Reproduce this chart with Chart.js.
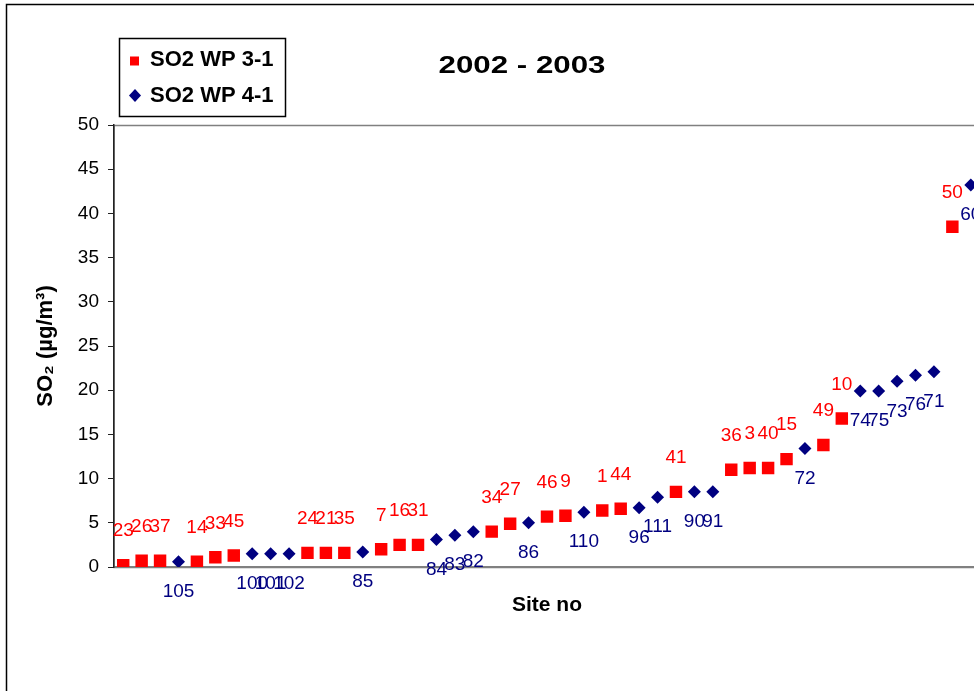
<!DOCTYPE html>
<html><head><meta charset="utf-8">
<script src="https://cdn.jsdelivr.net/npm/chart.js@4/dist/chart.umd.min.js"></script>
<style>html,body{margin:0;padding:0;overflow:hidden;background:#fff;width:974px;height:691px}canvas{display:block}</style>
</head><body>
<canvas id="c" width="1000" height="700"></canvas>
<script>
// ---- data ----
const chartTitle = '2002 - 2003';
const seriesNames = ['SO2 WP 3-1', 'SO2 WP 4-1'];
const siteLabels = ['23','26','37','105','14','33','45','100','101','102','24','21','35','85','7','16','31','84','83','82','34','27','86','46','9','110','1','44','96','111','41','90','91','36','3','40','15','72','49','10','74','75','73','76','71','50','60'];
const wp31 = [0.2,0.7,0.7,null,0.6,1.1,1.3,null,null,null,1.6,1.6,1.6,null,2.0,2.5,2.5,null,null,null,4.0,4.9,null,5.7,5.8,null,6.4,6.6,null,null,8.5,null,null,11.0,11.2,11.2,12.2,null,13.8,16.8,null,null,null,null,null,38.5,null];
const wp41 = [null,null,null,0.6,null,null,null,1.5,1.5,1.5,null,null,null,1.7,null,null,null,3.1,3.6,4.0,null,null,5.0,null,null,6.2,null,null,6.7,7.9,null,8.5,8.5,null,null,null,null,13.4,null,null,19.9,19.9,21.0,21.7,22.1,null,43.2];
const yTickValues = [0,5,10,15,20,25,30,35,40,45,50];
const yTitle = 'SO\u2082 (\u00b5g/m\u00b3)';
const xTitle = 'Site no';

// ---- style ----
const FONT = '"Liberation Sans", Arial, Helvetica, sans-serif';
const RED = '#FF0000', NAVY = '#000080';

const decor = {
  id: 'decor',
  beforeDraw(chart) {
    const {ctx, chartArea: a} = chart;
    ctx.save();
    ctx.fillStyle = '#fff';
    ctx.fillRect(0, 0, chart.width, chart.height);
    ctx.strokeStyle = '#808080';
    ctx.lineWidth = 1.5;
    ctx.strokeRect(a.left, a.top + 0.5, a.right - a.left, a.bottom - a.top);
    ctx.restore();
  },
  afterDatasetsDraw(chart) {
    const {ctx} = chart;
    ctx.save();
    ctx.font = '19px ' + FONT;
    ctx.textAlign = 'center';
    ctx.textBaseline = 'middle';
    chart.data.datasets.forEach((ds, di) => {
      const meta = chart.getDatasetMeta(di);
      meta.data.forEach((pt, i) => {
        if (ds.data[i] === null || ds.data[i] === undefined) return;
        ctx.fillStyle = di === 0 ? RED : NAVY;
        const dy = di === 0 ? -34 : 30;
        ctx.fillText(siteLabels[i], pt.x, pt.y + dy);
      });
    });
    ctx.restore();
  },
  afterDraw(chart) {
    const {ctx} = chart;
    ctx.save();
    // outer chart border
    ctx.strokeStyle = '#000';
    ctx.lineWidth = 1.5;
    ctx.strokeRect(6.5, 4.5, 1200, 1200);
    // title (stretched horizontally like the original)
    ctx.fillStyle = '#000';
    ctx.translate(522, 67);
    ctx.scale(1.36, 1);
    ctx.font = 'bold 23px ' + FONT;
    ctx.textAlign = 'center';
    ctx.textBaseline = 'middle';
    ctx.fillText(chartTitle, 0, 0);
    ctx.restore();

    // legend
    ctx.save();
    ctx.fillStyle = '#fff';
    ctx.fillRect(120, 39, 165, 77);
    ctx.strokeStyle = '#000';
    ctx.lineWidth = 1.5;
    ctx.strokeRect(119.5, 38.5, 166, 78);
    ctx.fillStyle = RED;
    ctx.fillRect(130, 56.5, 9, 9);
    ctx.fillStyle = NAVY;
    ctx.beginPath();
    ctx.moveTo(135, 89); ctx.lineTo(141, 95.5); ctx.lineTo(135, 102); ctx.lineTo(129, 95.5);
    ctx.closePath(); ctx.fill();
    ctx.fillStyle = '#000';
    ctx.font = 'bold 22px ' + FONT;
    ctx.textAlign = 'left';
    ctx.textBaseline = 'middle';
    ctx.fillText(seriesNames[0], 150, 60);
    ctx.fillText(seriesNames[1], 150, 96);
    ctx.restore();
  }
};

new Chart(document.getElementById('c'), {
  type: 'line',
  data: {
    labels: siteLabels,
    datasets: [
      { label: seriesNames[0], data: wp31, showLine: false, pointStyle: 'rect', pointRadius: 8.8,
        backgroundColor: RED, borderColor: RED, pointBorderWidth: 0 },
      { label: seriesNames[1], data: wp41, showLine: false, pointStyle: 'rectRot', pointRadius: 6.5,
        backgroundColor: NAVY, borderColor: NAVY, pointBorderWidth: 0 }
    ]
  },
  options: {
    responsive: false,
    animation: false,
    events: [],
    layout: { padding: { left: 0, top: 125, right: 20, bottom: 0 } },
    plugins: { legend: { display: false }, title: { display: false }, tooltip: { enabled: false } },
    scales: {
      x: {
        type: 'category',
        offset: true,
        grid: { display: false, offset: true },
        border: { display: true, color: '#808080', width: 2 },
        ticks: { display: false },
        title: { display: true, text: xTitle, color: '#000',
                 font: { family: FONT, size: 21, weight: 'bold' }, padding: { top: 0, bottom: 82 } },
        afterFit(s) { s.height = 133; }
      },
      y: {
        min: 0, max: 50,
        afterBuildTicks(s) { s.ticks = yTickValues.map(v => ({ value: v })); },
        grid: { display: true, drawOnChartArea: false, drawTicks: true, tickLength: 6, color: '#222', lineWidth: 1 },
        border: { display: true, color: '#222', width: 1.5 },
        ticks: { color: '#000', padding: 9, font: { family: FONT, size: 19 } },
        title: { display: true, text: yTitle, color: '#000',
                 font: { family: FONT, size: 22, weight: 'bold' }, padding: { top: 33, bottom: 0 } },
        afterFit(s) { s.width = 114; }
      }
    }
  },
  plugins: [decor]
});
</script>
</body></html>
